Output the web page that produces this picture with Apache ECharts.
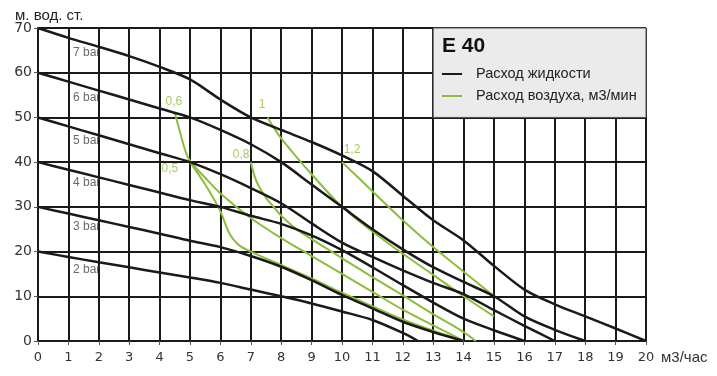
<!DOCTYPE html>
<html><head><meta charset="utf-8">
<script src="https://cdn.jsdelivr.net/npm/echarts@6/dist/echarts.min.js"></script>
<style>html,body{margin:0;padding:0;background:#fff}#c{width:717px;height:376px}</style>
</head><body><div id="c"></div>
<script>
const xTicks = [0,1,2,3,4,5,6,7,8,9,10,11,12,13,14,15,16,17,18,19,20];
const yTicks = [0,10,20,30,40,50,60,70];
const pressureNames = ['7 bar','6 bar','5 bar','4 bar','3 bar','2 bar'];
const bar7 = [[0,70],[1,67.8],[2,65.8],[3,63.7],[4,61.3],[5,58.5],[6,54],[7,50],[8,47.2],[9,44.5],[10,41.5],[11,38],[12,32.5],[13,27],[14,22.5],[15,16.8],[16,11.5],[17,8.2],[18,5.5],[19,2.8],[20,0]];
const bar6 = [[0,60],[1,58],[2,56],[3,54],[4,52],[5,50],[6,47.2],[7,44],[8,40],[9,35],[10,30],[11,25],[12,20.5],[13,16.5],[14,13.2],[15,10],[16,5.5],[17,2.5],[18,0]];
const bar5 = [[0,50],[1,48],[2,46],[3,44],[4,42],[5,40],[6,37.3],[7,34.2],[8,30.8],[9,26.3],[10,22],[11,18.8],[12,15.8],[13,13],[14,10.5],[15,6.9],[16,3.4],[17,0]];
const bar4 = [[0,40],[1,38.3],[2,36.6],[3,34.9],[4,33.2],[5,31.5],[6,30],[7,28],[8,26.2],[9,23.6],[10,20.3],[11,16.5],[12,12.5],[13,8.6],[14,5],[15,2.4],[16,0]];
const bar3 = [[0,30],[1,28.5],[2,27],[3,25.5],[4,24],[5,22.4],[6,21],[7,19],[8,16.6],[9,13.6],[10,10.3],[11,7.3],[12,4.3],[13,2],[14,0]];
const bar2 = [[0,20],[1,18.8],[2,17.6],[3,16.5],[4,15.3],[5,14.2],[6,13],[7,11.5],[8,10],[9,8.4],[10,6.6],[11,4.7],[12,1.8],[12.5,0]];
const airNames = ['0,6','0,5','0,8','1','1,2'];
const air06 = [[4.5,51],[4.7,46],[4.85,42.5],[5,40.3],[5.5,36.5],[6,33],[7,27.5],[8,23],[9,19],[10,15],[11,11],[12,7],[13,3.5],[14,0]];
const air05 = [[5,40],[5.5,35],[6,29],[6.3,24],[6.6,21.5],[7,20],[8,17],[9,14],[10,10.8],[11,7.8],[12,4.8],[13,2.3],[14,0]];
const air08 = [[7,40],[7.2,35.5],[7.5,32],[7.75,30],[8,28],[8.5,25],[9,22.8],[10,18.5],[11,14.3],[12,10.2],[13,6],[14,2],[14.4,0]];
const air1 = [[7.55,50],[7.7,48.3],[8,45.3],[8.5,41.2],[9,37.3],[10,30],[11,24.5],[12,19.5],[13,14.8],[14,10],[15,5.5]];
const air12 = [[10,40],[11,33.5],[12,27],[13,21],[14,15.5],[15,10]];
const pressureLabelPos = [[1.15,64.4],[1.15,54.4],[1.15,44.9],[1.15,35.3],[1.15,25.6],[1.15,16.0]];
const airLabelPos = [[4.47,53.5],[4.34,38.5],[6.68,41.6],[7.37,52.9],[10.33,42.7]];

const BLACK = '#1a1a1a', GREEN = '#8cbd3c';
const FONT = 'Liberation Sans, Arial, sans-serif';
const black = [bar7,bar6,bar5,bar4,bar3,bar2];
const green = [air06,air05,air08,air1,air12];
const LIQ = 'Расход жидкости', AIR = 'Расход воздуха, м3/мин';
const series = [];
green.forEach(d => series.push({name: AIR, type:'line', data:d, smooth:0.35, symbol:'none', z:3,
  lineStyle:{color:GREEN, width:2}, itemStyle:{color:GREEN}}));
black.forEach((d,i) => series.push({name: LIQ, type:'line', data:d, smooth:0.3, symbol:'none', z:4,
  lineStyle:{color:BLACK, width:2.5}, itemStyle:{color:BLACK},
  markArea: i===0 ? {silent:true, itemStyle:{color:'#ebebeb', borderColor:'#555', borderWidth:1},
    data:[[{coord:[13,70]},{coord:[20,50]}]]} : undefined}));
series.push({type:'scatter', symbolSize:0, z:5, silent:true,
  data: pressureLabelPos.map((p,i)=>({value:p, label:{formatter:pressureNames[i]}})),
  label:{show:true, position:'right', distance:0, color:'#444', fontSize:12, fontFamily:FONT}});
series.push({type:'scatter', symbolSize:0, z:5, silent:true,
  data: airLabelPos.map((p,i)=>({value:p, label:{formatter:airNames[i]}})),
  label:{show:true, position:'inside', color:GREEN, fontSize:12, fontFamily:FONT}});

const chart = echarts.init(document.getElementById('c'), null, {renderer:'canvas'});
chart.setOption({
  animation:false,
  backgroundColor:'#fff',
  title:[
    {text:'E 40', left:437, top:31, textStyle:{fontSize:21, fontWeight:'bold', color:'#111', fontFamily:FONT}},
    {text:'м. вод. ст.', left:10, top:3, textStyle:{fontSize:15, fontWeight:'normal', color:'#222', fontFamily:FONT}}
  ],
  legend:{left:437, top:60, orient:'vertical', itemGap:4, itemWidth:20, itemHeight:2, icon:'rect', selectedMode:false,
    data:[{name:LIQ, itemStyle:{color:BLACK}},{name:AIR, itemStyle:{color:GREEN}}],
    textStyle:{fontSize:14.5, color:'#222', lineHeight:18, padding:[0,0,0,9], fontFamily:FONT}},
  grid:{left:38, right:71, top:28, bottom:35, containLabel:false},
  xAxis:{type:'value', min:0, max:20, interval:1, name:'м3/час', nameLocation:'end', nameGap:15,
    nameTextStyle:{fontSize:15, color:'#333', verticalAlign:'top', padding:[9,0,0,0], fontFamily:FONT},
    axisLine:{lineStyle:{color:BLACK, width:2}}, axisTick:{show:true, length:4, lineStyle:{color:'#555'}},
    axisLabel:{fontSize:13, color:'#333', margin:10, fontFamily:'DejaVu Sans, sans-serif'},
    splitLine:{show:true, lineStyle:{color:BLACK, width:2}}},
  yAxis:{type:'value', min:0, max:70, interval:10,
    axisLine:{show:true, lineStyle:{color:BLACK, width:2}}, axisTick:{show:true, length:4, lineStyle:{color:'#555'}},
    axisLabel:{fontSize:14, color:'#333', margin:6, fontFamily:'DejaVu Sans, sans-serif'},
    splitLine:{show:true, lineStyle:{color:BLACK, width:2}}},
  series
});
</script></body></html>
